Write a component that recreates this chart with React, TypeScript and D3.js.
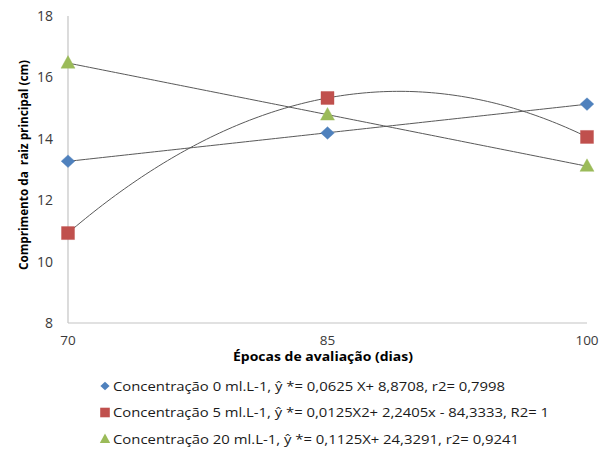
import React from "react";
import * as d3 from "d3";

// Evaluation days
const days = [70, 85, 100];
// Root length (cm) per concentration
const conc0 = [13.27, 14.19, 15.13];
const conc5 = [10.93, 15.33, 14.06];
const conc20 = [16.47, 14.78, 13.11];

const yTicks = [8, 10, 12, 14, 16, 18];
const xTicks = [70, 85, 100];

const legendLabels = [
  "Concentração 0 ml.L-1, ŷ *= 0,0625 X+ 8,8708, r2= 0,7998",
  "Concentração 5 ml.L-1, ŷ *= 0,0125X2+ 2,2405x - 84,3333, R2= 1",
  "Concentração 20 ml.L-1, ŷ *= 0,1125X+ 24,3291, r2= 0,9241",
];
const legendWidths = [392, 436, 406];

const colors = ["#4F81BD", "#C0504D", "#9BBB59"];

const W = 599;
const H = 451;
const left = 68;
const right = 587;
const top = 16;
const bottom = 323;

function linearFit(xs: number[], ys: number[]) {
  const mx = d3.mean(xs)!;
  const my = d3.mean(ys)!;
  let num = 0;
  let den = 0;
  xs.forEach((x, i) => {
    num += (x - mx) * (ys[i] - my);
    den += (x - mx) * (x - mx);
  });
  const b = num / den;
  const a = my - b * mx;
  return (x: number) => a + b * x;
}

// Quadratic through three points (Lagrange form)
function quadFit(xs: number[], ys: number[]) {
  return (x: number) => {
    let s = 0;
    for (let i = 0; i < 3; i++) {
      let term = ys[i];
      for (let j = 0; j < 3; j++) {
        if (j !== i) term *= (x - xs[j]) / (xs[i] - xs[j]);
      }
      s += term;
    }
    return s;
  };
}

// Marker outlines, scaled by half-width s
const diamondPath = (s: number) => `M0,${-s * 0.93}L${s},0L0,${s * 0.93}L${-s},0Z`;
const squarePath = (s: number) => `M${-s},${-s}H${s}V${s}H${-s}Z`;
const trianglePath = (s: number) => `M0,${-s * 1.05}L${s},${s * 0.75}L${-s},${s * 0.75}Z`;

export default function App() {
  const x = d3.scaleLinear().domain([70, 100]).range([left, right]);
  const y = d3.scaleLinear().domain([8, 18]).range([bottom, top]);

  const fits = [linearFit(days, conc0), quadFit(days, conc5), linearFit(days, conc20)];
  const samples = d3.range(70, 100.01, 0.25);
  const series = [conc0, conc5, conc20];

  const shapes = [diamondPath(6.8), squarePath(6.5), trianglePath(7)];
  const legendShapes = [diamondPath(4.6), squarePath(4.8), trianglePath(5.2)];

  const font = "'Open Sans', 'DejaVu Sans', sans-serif";

  return (
    <svg
      width={W}
      height={H}
      style={{ position: "absolute", left: 0, top: 0, background: "#fff" }}
      fontFamily={font}
    >
      {/* axes */}
      <line x1={left} x2={left} y1={top} y2={bottom} stroke="#c4c4c4" strokeWidth={1.2} />
      <line x1={left} x2={right} y1={bottom} y2={bottom} stroke="#c4c4c4" strokeWidth={1.2} />

      {yTicks.map((t) => (
        <text key={t} x={53} y={y(t)} dy="0.35em" textAnchor="end" fontSize={14} fill="#3a3a3a">
          {t}
        </text>
      ))}
      {xTicks.map((t) => (
        <text key={t} x={x(t)} y={340} dy="0.35em" textAnchor="middle" fontSize={13.5} fill="#3a3a3a">
          {t}
        </text>
      ))}

      <text
        x={323}
        y={356.5}
        dy="0.35em"
        textAnchor="middle"
        fontSize={12.5}
        fontWeight="bold"
        fill="#000"
        textLength={180}
        lengthAdjust="spacingAndGlyphs"
      >
        Épocas de avaliação (dias)
      </text>
      <text
        transform={`translate(23,165) rotate(-90)`}
        textAnchor="middle"
        dy="0.35em"
        fontSize={13}
        fontWeight="bold"
        fill="#000"
        textLength={210}
        lengthAdjust="spacingAndGlyphs"
        style={{ whiteSpace: "pre" }}
      >
        {"Comprimento da  raiz principal (cm)"}
      </text>

      {/* trend lines */}
      {fits.map((f, i) => (
        <path
          key={i}
          d={
            d3
              .line<number>()
              .x((d) => x(d))
              .y((d) => y(f(d)))(samples) || ""
          }
          fill="none"
          stroke="#595959"
          strokeWidth={1}
        />
      ))}

      {/* markers */}
      {series.map((vals, i) =>
        vals.map((v, j) => (
          <path
            key={`${i}-${j}`}
            d={shapes[i]}
            transform={`translate(${x(days[j])},${y(v)})`}
            fill={colors[i]}
            stroke={colors[i]}
            strokeOpacity={0.4}
            strokeWidth={1}
          />
        ))
      )}

      {/* legend */}
      {legendLabels.map((lab, i) => {
        const ly = 386 + i * 26.5;
        return (
          <g key={i}>
            <path d={legendShapes[i]} transform={`translate(105,${ly})`} fill={colors[i]} />
            <text
              x={113}
              y={ly}
              dy="0.35em"
              fontSize={13.5}
              fill="#1a1a1a"
              textLength={legendWidths[i]}
              lengthAdjust="spacingAndGlyphs"
            >
              {lab}
            </text>
          </g>
        );
      })}
    </svg>
  );
}
